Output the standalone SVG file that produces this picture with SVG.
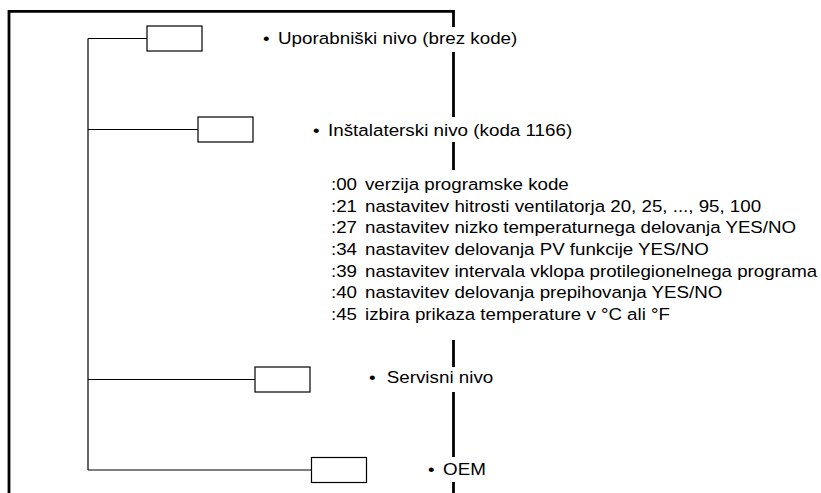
<svg xmlns="http://www.w3.org/2000/svg" width="821" height="493" viewBox="0 0 821 493">
<style>
.frame{fill:none;stroke:#000;stroke-width:2.8}
.ln{fill:none;stroke:#000;stroke-width:1.2}
.box{fill:#fff;stroke:#000;stroke-width:1.2}
text{font-family:"Liberation Sans",Arial,sans-serif;font-size:16.5px;fill:#000}
</style>
<rect width="821" height="493" fill="#fff"/>
<g id="frame">
<path class="frame" d="M9,493 V11.3 H453.5 V27"/>
<path class="frame" d="M453.5,52 V117 M453.5,142 V170 M453.5,340 V367 M453.5,392 V457 M453.5,482 V493"/>
</g>
<g id="connectors">
<path class="ln" d="M88,38.5 V470 M88,38.5 H147 M88,129.5 H198 M88,379.5 H255 M88,470 H311.5"/>
</g>
<g id="node1"><rect class="box" x="147" y="26" width="55" height="25"/></g>
<g id="node2"><rect class="box" x="198" y="117" width="55" height="25"/></g>
<g id="node3"><rect class="box" x="255" y="367" width="55" height="25"/></g>
<g id="node4"><rect class="box" x="311.5" y="457.5" width="55" height="25"/></g>
<g id="labels" transform="scale(1.14,1)">
<text y="44"><tspan x="230.7">•</tspan><tspan x="243.86">Uporabniški nivo (brez kode)</tspan></text>
<text y="136"><tspan x="274.56">•</tspan><tspan x="287.72">Inštalaterski nivo (koda 1166)</tspan></text>
<text y="383"><tspan x="323.68">•</tspan><tspan x="339.21">Servisni nivo</tspan></text>
<text y="475"><tspan x="375.44">•</tspan><tspan x="388.6">OEM</tspan></text>
</g>
<g id="list" transform="scale(1.135,1)">
<text y="190"><tspan x="291.63">:00</tspan><tspan x="321.59">verzija programske kode</tspan></text>
<text y="211.7"><tspan x="291.63">:21</tspan><tspan x="321.59">nastavitev hitrosti ventilatorja 20, 25, ..., 95, 100</tspan></text>
<text y="233.4"><tspan x="291.63">:27</tspan><tspan x="321.59">nastavitev nizko temperaturnega delovanja YES/NO</tspan></text>
<text y="255.1"><tspan x="291.63">:34</tspan><tspan x="321.59">nastavitev delovanja PV funkcije YES/NO</tspan></text>
<text y="276.8"><tspan x="291.63">:39</tspan><tspan x="321.59">nastavitev intervala vklopa protilegionelnega programa</tspan></text>
<text y="298.5"><tspan x="291.63">:40</tspan><tspan x="321.59">nastavitev delovanja prepihovanja YES/NO</tspan></text>
<text y="320.2"><tspan x="291.63">:45</tspan><tspan x="321.59">izbira prikaza temperature v °C ali °F</tspan></text>
</g>
</svg>
